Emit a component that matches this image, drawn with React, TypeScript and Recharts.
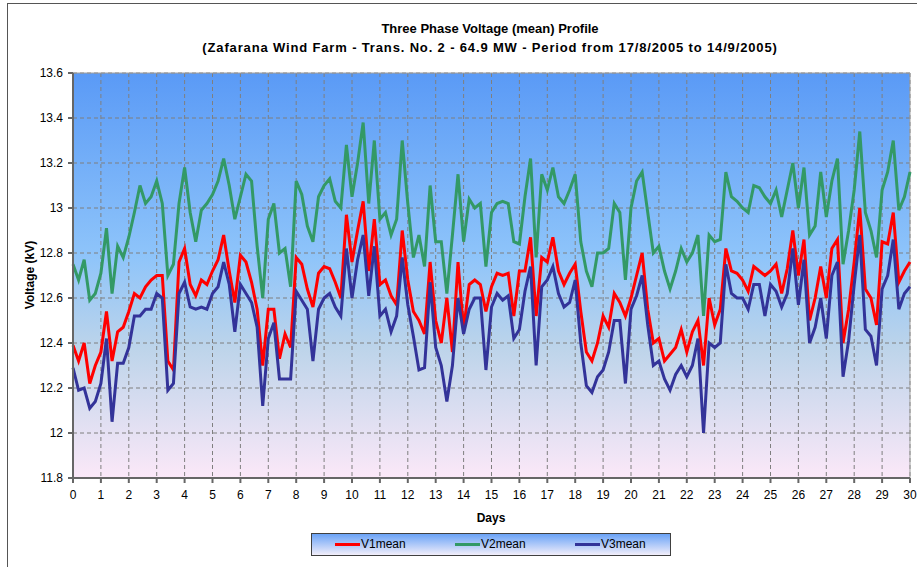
import React from "react";
import { LineChart, Line, XAxis, YAxis, CartesianGrid, ReferenceLine } from "recharts";

// readings every 0.2 day (4.8 h), 17/8/2005 → 14/9/2005
const v1mean = [
  12.39, 12.32, 12.4, 12.22, 12.3, 12.36, 12.54, 12.32, 12.45, 12.47,
  12.54, 12.62, 12.6, 12.65, 12.68, 12.7, 12.7, 12.32, 12.28, 12.76,
  12.82, 12.66, 12.61, 12.68, 12.66, 12.72, 12.77, 12.88, 12.72, 12.58,
  12.79, 12.76, 12.67, 12.55, 12.3, 12.55, 12.55, 12.33, 12.44, 12.38,
  12.78, 12.75, 12.64, 12.56, 12.71, 12.74, 12.73, 12.67, 12.6, 12.97,
  12.76, 12.9, 13.03, 12.72, 12.95, 12.66, 12.68, 12.61, 12.57, 12.9,
  12.68, 12.54, 12.5, 12.44, 12.76, 12.5, 12.4, 12.6, 12.36, 12.76,
  12.46, 12.66, 12.68, 12.66, 12.54, 12.65, 12.71, 12.7, 12.71, 12.52,
  12.72, 12.72, 12.87, 12.52, 12.78, 12.76, 12.87, 12.72, 12.66, 12.71,
  12.75, 12.54, 12.36, 12.32, 12.4, 12.52, 12.47, 12.62, 12.58, 12.52,
  12.6, 12.7, 12.8, 12.55, 12.4, 12.42, 12.32, 12.35, 12.38, 12.46,
  12.36, 12.45, 12.5, 12.3, 12.6, 12.48, 12.55, 12.82, 12.72, 12.71,
  12.68, 12.63, 12.74, 12.72, 12.7, 12.72, 12.75, 12.62, 12.73, 12.9,
  12.7, 12.86, 12.5, 12.6, 12.74, 12.6, 12.82, 12.86, 12.4, 12.55,
  12.76, 13.0, 12.64, 12.6, 12.48, 12.85, 12.84, 12.98, 12.67, 12.72,
  12.76,
];

const v2mean = [
  12.75, 12.68, 12.77, 12.59, 12.62, 12.71, 12.91, 12.62, 12.83, 12.78,
  12.87, 12.98, 13.1, 13.02, 13.05, 13.12, 13.02, 12.7, 12.75, 13.02,
  13.18, 12.98, 12.85, 12.99, 13.02, 13.06, 13.12, 13.22, 13.1, 12.95,
  13.05, 13.15, 13.12, 12.83, 12.6, 12.95, 13.02, 12.8, 12.82, 12.65,
  13.12, 13.06, 12.92, 12.85, 13.05, 13.1, 13.13, 13.03, 13.0, 13.28,
  13.05, 13.2, 13.38, 13.02, 13.3, 12.95, 12.98, 12.88, 12.95, 13.3,
  13.02, 12.78, 12.88, 12.74, 13.1, 12.85, 12.85, 12.62, 12.88, 13.15,
  12.85, 13.04, 13.0, 13.02, 12.74, 12.98, 13.02, 13.03, 13.02, 12.85,
  12.84, 13.05, 13.22, 12.78, 13.15, 13.08, 13.18, 13.05, 13.02, 13.08,
  13.15, 12.85, 12.72, 12.65, 12.8, 12.8, 12.82, 13.02, 12.98, 12.68,
  13.0, 13.12, 13.16, 12.98, 12.8, 12.83, 12.72, 12.64, 12.72, 12.82,
  12.76, 12.8, 12.88, 12.52, 12.88, 12.85, 12.86, 13.16, 13.05, 13.03,
  13.0, 12.98, 13.1, 13.09, 13.05, 13.02, 13.08, 12.96, 13.08, 13.2,
  13.0, 13.18, 12.88, 12.92, 13.16, 12.96, 13.12, 13.22, 12.75, 12.9,
  13.08, 13.34, 12.98, 12.9, 12.78, 13.08, 13.16, 13.3, 12.99, 13.05,
  13.16,
];

const v3mean = [
  12.29, 12.19, 12.2, 12.11, 12.14, 12.22, 12.42, 12.05, 12.31, 12.31,
  12.38, 12.52, 12.52, 12.55, 12.55, 12.62, 12.6, 12.19, 12.22, 12.62,
  12.67, 12.56, 12.55, 12.56, 12.55, 12.62, 12.65, 12.76, 12.66, 12.45,
  12.66, 12.62, 12.58, 12.47, 12.12, 12.42, 12.49, 12.24, 12.24, 12.24,
  12.63, 12.59, 12.55, 12.32, 12.55, 12.6, 12.62, 12.56, 12.52, 12.82,
  12.6, 12.77, 12.88, 12.61, 12.83, 12.52, 12.55, 12.45, 12.52, 12.78,
  12.57, 12.43, 12.28, 12.29, 12.67, 12.38, 12.3, 12.14, 12.3, 12.6,
  12.44, 12.55, 12.6, 12.6, 12.28, 12.56, 12.62, 12.59, 12.61, 12.42,
  12.46, 12.63, 12.74, 12.3, 12.65, 12.68, 12.74, 12.62, 12.56, 12.58,
  12.68, 12.4, 12.21, 12.18, 12.25, 12.28, 12.36, 12.5, 12.5, 12.22,
  12.55, 12.61, 12.7, 12.48, 12.3, 12.32, 12.24, 12.19, 12.26, 12.3,
  12.25, 12.3, 12.42, 12.0, 12.4, 12.38, 12.4, 12.75, 12.62, 12.6,
  12.6, 12.55, 12.66, 12.66, 12.52, 12.66, 12.63, 12.56, 12.62, 12.82,
  12.57, 12.77, 12.4, 12.47, 12.6, 12.42, 12.7, 12.76, 12.25, 12.41,
  12.66, 12.88, 12.46, 12.43, 12.3, 12.64, 12.7, 12.86, 12.55, 12.62,
  12.65,
];

const STEP = 0.2; // days between readings
const dayTicks = [
  0, 1, 2, 3, 4, 5, 6, 7, 8, 9, 10, 11, 12, 13, 14, 15,
  16, 17, 18, 19, 20, 21, 22, 23, 24, 25, 26, 27, 28, 29, 30,
];
const voltTicks = [11.8, 12, 12.2, 12.4, 12.6, 12.8, 13, 13.2, 13.4, 13.6];

const data = v1mean.map((v, i) => ({
  day: Math.round(i * STEP * 10) / 10,
  V1mean: v,
  V2mean: v2mean[i],
  V3mean: v3mean[i],
}));

const FONT = "'Liberation Sans', Arial, sans-serif";
const tickStyle = { fontSize: 12, fill: "#000", fontFamily: FONT };

const legendItems = [
  { name: "V1mean", color: "#ff0000", x: 335 },
  { name: "V2mean", color: "#339966", x: 455 },
  { name: "V3mean", color: "#333399", x: 575 },
];

export default function App() {
  return (
    <div style={{ position: "absolute", left: 0, top: 0, width: 917, height: 567, background: "#fff", overflow: "hidden", fontFamily: FONT }}>
      {/* chart frame, runs off the right and bottom */}
      <div style={{ position: "absolute", left: 7, top: 3, width: 930, height: 580, borderTop: "1px solid #555", borderLeft: "1px solid #555" }} />

      <div style={{ position: "absolute", left: 0, top: 19, width: 980, textAlign: "center", fontWeight: "bold", fontSize: 13, lineHeight: "19px" }}>
        <div>Three Phase Voltage (mean) Profile</div>
        <div style={{ letterSpacing: 0.85 }}>
          (Zafarana Wind Farm - Trans. No. 2 - 64.9 MW - Period from 17/8/2005 to 14/9/2005)
        </div>
      </div>

      <div style={{ position: "absolute", left: 30, top: 275, transform: "translate(-50%, -50%) rotate(-90deg)", fontWeight: "bold", fontSize: 12, whiteSpace: "nowrap" }}>
        Voltage (kV)
      </div>
      <div style={{ position: "absolute", left: 491, top: 518, transform: "translate(-50%, -50%)", fontWeight: "bold", fontSize: 12 }}>
        Days
      </div>

      <div style={{ position: "absolute", left: 0, top: 0 }}>
        <LineChart width={917} height={567} data={data} margin={{ top: 73, right: 7, bottom: 59, left: 0 }}>
          <defs>
            <linearGradient id="plotBg" x1="0" y1="0" x2="0" y2="1">
              <stop offset="0%" stopColor="#5a9af6" />
              <stop offset="45%" stopColor="#8ec4fa" />
              <stop offset="68%" stopColor="#bdd4ea" />
              <stop offset="100%" stopColor="#fbe8f8" />
            </linearGradient>
          </defs>
          <CartesianGrid fill="url(#plotBg)" fillOpacity={1} stroke="#7f7f7f" strokeDasharray="4 3" />
          <XAxis
            dataKey="day"
            type="number"
            domain={[0, 30]}
            ticks={dayTicks}
            interval={0}
            height={30}
            tick={tickStyle}
            tickSize={5}
            tickMargin={7}
            stroke="#666"
            strokeWidth={2}
          />
          <YAxis
            type="number"
            domain={[11.8, 13.6]}
            ticks={voltTicks}
            interval={0}
            width={73}
            tick={tickStyle}
            tickSize={5}
            tickMargin={5}
            stroke="#666"
            strokeWidth={2}
          />
          <ReferenceLine y={13.6} stroke="#a0a0a0" />
          <ReferenceLine x={30} stroke="#a0a0a0" />
          <Line type="linear" dataKey="V1mean" stroke="#ff0000" strokeWidth={3} dot={false} isAnimationActive={false} />
          <Line type="linear" dataKey="V2mean" stroke="#339966" strokeWidth={3} dot={false} isAnimationActive={false} />
          <Line type="linear" dataKey="V3mean" stroke="#333399" strokeWidth={3} dot={false} isAnimationActive={false} />
        </LineChart>
      </div>

      <div style={{ position: "absolute", left: 311, top: 533, width: 358, height: 21, border: "1px solid #404040", background: "linear-gradient(#6aa3f7, #f2eefa)" }} />
      {legendItems.map((it) => (
        <div key={it.name} style={{ position: "absolute", left: it.x, top: 536, height: 16, display: "flex", alignItems: "center", fontSize: 12 }}>
          <span style={{ display: "inline-block", width: 25, height: 3, background: it.color }} />
          <span style={{ marginLeft: 1 }}>{it.name}</span>
        </div>
      ))}
    </div>
  );
}
